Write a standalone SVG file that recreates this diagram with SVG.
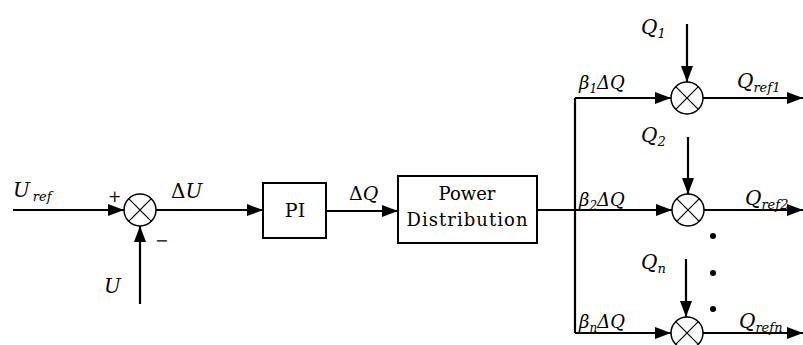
<svg xmlns="http://www.w3.org/2000/svg" width="803" height="345" viewBox="0 0 803 345">
<style>
.ln{stroke:#000;stroke-width:2.2;fill:none}
.sum{fill:#fff;stroke:#000;stroke-width:1.5}
.box{fill:#fff;stroke:#000;stroke-width:2}
</style>
<defs>
<marker id="ah" markerWidth="16" markerHeight="12" refX="16" refY="6" orient="auto" markerUnits="userSpaceOnUse">
<path d="M0,0 L16,6 L0,12 Z" fill="#000"/>
</marker>
<g id="x">
<circle r="16" class="sum"/>
<path d="M-11.3,-11.3 L11.3,11.3 M-11.3,11.3 L11.3,-11.3" stroke="#000" stroke-width="1.2"/>
</g>
</defs>
<g id="connectors">
<line class="ln" x1="13" y1="210" x2="124" y2="210" marker-end="url(#ah)"/>
<line class="ln" x1="140" y1="304" x2="140" y2="226" marker-end="url(#ah)"/>
<line class="ln" x1="156" y1="210" x2="263" y2="210" marker-end="url(#ah)"/>
<line class="ln" x1="326" y1="211" x2="398" y2="211" marker-end="url(#ah)"/>
<polyline class="ln" points="537,210 575,210"/>
<line class="ln" x1="575" y1="98" x2="575" y2="333"/>
<line class="ln" x1="575" y1="98" x2="671" y2="98" marker-end="url(#ah)"/>
<line class="ln" x1="575" y1="210" x2="672" y2="210" marker-end="url(#ah)"/>
<line class="ln" x1="575" y1="333" x2="671" y2="333" marker-end="url(#ah)"/>
<line class="ln" x1="687" y1="24" x2="687" y2="82" marker-end="url(#ah)"/>
<line class="ln" x1="688" y1="137" x2="688" y2="194" marker-end="url(#ah)"/>
<line class="ln" x1="686" y1="259" x2="686" y2="317" marker-end="url(#ah)"/>
<line class="ln" x1="703" y1="98" x2="803" y2="98" marker-end="url(#ah)"/>
<line class="ln" x1="704" y1="210" x2="803" y2="210" marker-end="url(#ah)"/>
<line class="ln" x1="703" y1="333" x2="803" y2="333" marker-end="url(#ah)"/>
</g>
<g fill="#000" font-family="DejaVu Serif, serif">
<g id="sum0"><use href="#x" x="140" y="210"/>
<text x="108" y="202" font-size="16">+</text>
<text x="155" y="246" font-size="16">−</text></g>
<g id="pi"><rect class="box" x="263" y="183" width="63" height="55"/>
<text x="295" y="217" font-size="19" text-anchor="middle">PI</text></g>
<g id="power"><rect class="box" x="398" y="176" width="139" height="67"/>
<text x="467" y="200" font-size="18" text-anchor="middle">Power</text>
<text x="467" y="226" font-size="18" text-anchor="middle" textLength="121">Distribution</text></g>
<g id="sum1"><use href="#x" x="687" y="98"/></g>
<g id="sum2"><use href="#x" x="688" y="210"/></g>
<g id="sumn"><use href="#x" x="687" y="333"/></g>
<g id="dots">
<circle cx="713" cy="236" r="3"/><circle cx="713" cy="273" r="3"/><circle cx="713" cy="309" r="3"/>
</g>
<g id="labels" font-size="20" font-style="italic">
<text x="13" y="197">U<tspan font-size="13" dx="3" dy="4">ref</tspan></text>
<text x="104" y="293">U</text>
<text x="171" y="198" font-style="normal">Δ<tspan font-style="italic">U</tspan></text>
<text x="349" y="200" font-style="normal" font-size="19">Δ<tspan font-style="italic">Q</tspan></text>
<text x="641" y="34">Q<tspan font-size="13" dy="4">1</tspan></text>
<text x="641" y="142">Q<tspan font-size="13" dy="4">2</tspan></text>
<text x="641" y="269">Q<tspan font-size="13" dy="4">n</tspan></text>
<text x="579" y="89" font-size="18">β<tspan font-size="12" dy="4">1</tspan><tspan dy="-4">ΔQ</tspan></text>
<text x="579" y="206" font-size="18">β<tspan font-size="12" dy="4">2</tspan><tspan dy="-4">ΔQ</tspan></text>
<text x="579" y="328" font-size="18">β<tspan font-size="12" dy="4">n</tspan><tspan dy="-4">ΔQ</tspan></text>
<text x="737" y="88">Q<tspan font-size="13" dy="4">ref1</tspan></text>
<text x="745" y="205">Q<tspan font-size="13" dy="4">ref2</tspan></text>
<text x="739" y="328">Q<tspan font-size="13" dy="4">refn</tspan></text>
</g>
</g>
</svg>
